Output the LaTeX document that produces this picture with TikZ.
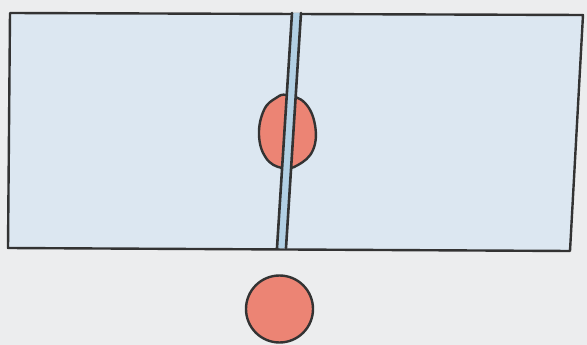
\documentclass[tikz,border=0pt]{standalone}
\begin{document}
\begin{tikzpicture}[x=1pt,y=-1pt,line join=round,line cap=round,
  ink/.style={draw=black!80,line width=2.4pt},
  redfill/.style={fill=salmonred}]
\definecolor{paper}{RGB}{236,237,238}
\definecolor{bluefill}{RGB}{220,231,241}
\definecolor{stripe}{RGB}{178,208,228}
\definecolor{salmonred}{RGB}{236,132,116}
\useasboundingbox (0,0) rectangle (587,345);
\fill[paper] (0,0) rectangle (587,345);
% main rectangle
\fill[bluefill] (10,13) -- (583,15) -- (570,251) -- (8,248) -- cycle;
\draw[ink] (10,13) -- (583,15) -- (570,251) -- (8,248) -- cycle;
% red egg
\draw[ink,redfill] plot[smooth cycle,tension=0.7] coordinates
 {(287,95) (305,103) (315,125) (313,150) (298,165) (282,168) (266,158) (259,135) (264,110) (276,98)};
% double divider
\fill[stripe] (292,13) -- (301,13) -- (286,248) -- (277,248) -- cycle;
\draw[ink,line width=2.6pt] (292,13) -- (277,248);
\draw[ink,line width=2.6pt] (301,13) -- (286,248);
% red circle
\draw[ink,redfill] (279.5,309) circle[radius=33.5];
\end{tikzpicture}
\end{document}
